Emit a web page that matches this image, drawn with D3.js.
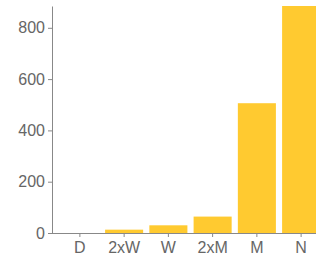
<!DOCTYPE html>
<html>
<head>
<meta charset="utf-8">
<script src="https://cdn.jsdelivr.net/npm/d3@7"></script>
<style>
  body { margin: 0; background: #fff; overflow: hidden; }
  .axis text { font-family: "Liberation Sans", Arial, sans-serif; font-size: 16px; fill: #666; }
  .axis path, .axis line { stroke: #888; }
</style>
</head>
<body>
<svg id="chart"></svg>
<script>
// frequency categories and counts
const categories = ["D", "2xW", "W", "2xM", "M", "N"];
const counts = [0, 13, 30, 64, 506, 885];
const yTicks = [0, 200, 400, 600, 800];

const w = 316, h = 259;
const marginLeft = 52, marginTop = 6, baseY = 233;

const svg = d3.select("#chart").attr("width", w).attr("height", h);

const x = d3.scaleBand()
  .domain(categories)
  .range([marginLeft, 329])
  .paddingInner(0.14)
  .paddingOuter(0.2);

const y = d3.scaleLinear()
  .domain([0, d3.max(counts)])
  .range([baseY, marginTop]);

svg.selectAll("rect")
  .data(categories)
  .enter().append("rect")
  .attr("x", d => x(d))
  .attr("width", x.bandwidth())
  .attr("y", (d, i) => y(counts[i]))
  .attr("height", (d, i) => baseY - y(counts[i]))
  .attr("fill", "#ffca30");

svg.append("g")
  .attr("class", "axis")
  .attr("transform", `translate(0,${baseY})`)
  .call(d3.axisBottom(x).tickSize(4).tickPadding(5).tickSizeOuter(0))
  .call(g => g.select(".domain").attr("d", `M${marginLeft},0.5H${w}`));

svg.append("g")
  .attr("class", "axis")
  .attr("transform", `translate(${marginLeft},0)`)
  .call(d3.axisLeft(y).tickValues(yTicks).tickSize(4).tickPadding(3).tickSizeOuter(0));
</script>
</body>
</html>
